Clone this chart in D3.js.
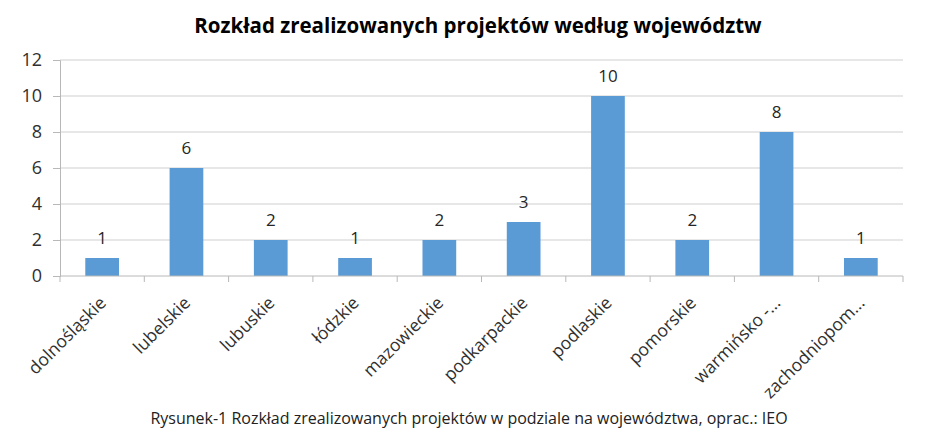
<!DOCTYPE html>
<html>
<head>
<meta charset="utf-8">
<script src="https://cdn.jsdelivr.net/npm/d3@7"></script>
<style>
  body { margin: 0; background: #fff; }
  text { font-family: "Open Sans", sans-serif; }
</style>
</head>
<body>
<div id="chart"></div>
<script>
// data
const categories = ["dolnośląskie", "lubelskie", "lubuskie", "łódzkie", "mazowieckie",
    "podkarpackie", "podlaskie", "pomorskie", "warmińsko -...", "zachodniopom..."];
const values = [1, 6, 2, 1, 2, 3, 10, 2, 8, 1];
const yTicks = [0, 2, 4, 6, 8, 10, 12];
const title = "Rozkład zrealizowanych projektów według województw";
const caption = "Rysunek-1 Rozkład zrealizowanych projektów w podziale na województwa, oprac.: IEO";

const width = 940, height = 445;
const margin = {top: 60, right: 37, bottom: 169, left: 60};

const svg = d3.select("#chart")
    .append("svg")
    .attr("width", width)
    .attr("height", height);

const x = d3.scaleBand()
    .domain(categories)
    .range([margin.left, width - margin.right])
    .paddingInner(0.6)
    .paddingOuter(0.3);

const y = d3.scaleLinear()
    .domain([0, 12])
    .range([height - margin.bottom, margin.top]);

// gridlines
svg.append("g")
    .selectAll("line")
    .data(yTicks.slice(1))
    .join("line")
    .attr("x1", margin.left)
    .attr("x2", width - margin.right)
    .attr("y1", d => y(d))
    .attr("y2", d => y(d))
    .attr("stroke", "#cfcfcf")
    .attr("stroke-width", 1);

// y axis
const yAxis = svg.append("g")
    .attr("transform", `translate(${margin.left},0)`)
    .call(d3.axisLeft(y).tickValues(yTicks).tickSize(7).tickPadding(11));
yAxis.select(".domain").attr("stroke", "#b8b8b8");
yAxis.selectAll(".tick line").attr("stroke", "#b8b8b8");
yAxis.selectAll("text")
    .attr("fill", "#303030")
    .style("font-size", "18px");

// bars
svg.append("g")
    .selectAll("rect")
    .data(values)
    .join("rect")
    .attr("x", (d, i) => x(categories[i]))
    .attr("y", d => y(d))
    .attr("width", x.bandwidth())
    .attr("height", d => y(0) - y(d))
    .attr("fill", "#5b9bd5");

// value labels
svg.append("g")
    .selectAll("text")
    .data(values)
    .join("text")
    .attr("x", (d, i) => x(categories[i]) + x.bandwidth() / 2)
    .attr("y", d => y(d) - 14)
    .attr("text-anchor", "middle")
    .attr("fill", "#262626")
    .style("font-size", "17px")
    .text(d => d);

// x axis with ticks between categories
const step = x.step();
const xAxisG = svg.append("g");
xAxisG.append("line")
    .attr("x1", margin.left)
    .attr("x2", width - margin.right)
    .attr("y1", y(0))
    .attr("y2", y(0))
    .attr("stroke", "#b8b8b8");
xAxisG.selectAll(".sep")
    .data(d3.range(categories.length + 1))
    .join("line")
    .attr("class", "sep")
    .attr("x1", i => margin.left + i * step)
    .attr("x2", i => margin.left + i * step)
    .attr("y1", y(0))
    .attr("y2", y(0) + 6)
    .attr("stroke", "#b8b8b8");

// rotated category labels
svg.append("g")
    .selectAll("text")
    .data(categories)
    .join("text")
    .attr("transform", d => `translate(${x(d) + x.bandwidth() / 2 + 5},${y(0) + 28}) rotate(-45)`)
    .attr("text-anchor", "end")
    .attr("fill", "#303030")
    .style("font-size", "17.5px")
    .text(d => d);

// title
svg.append("text")
    .attr("x", 478)
    .attr("y", 33)
    .attr("text-anchor", "middle")
    .attr("fill", "#000")
    .style("font-size", "20.5px")
    .style("font-weight", "bold")
    .text(title);

// caption
svg.append("text")
    .attr("x", 469)
    .attr("y", 424)
    .attr("text-anchor", "middle")
    .attr("fill", "#222")
    .style("font-size", "16px")
    .text(caption);
</script>
</body>
</html>
